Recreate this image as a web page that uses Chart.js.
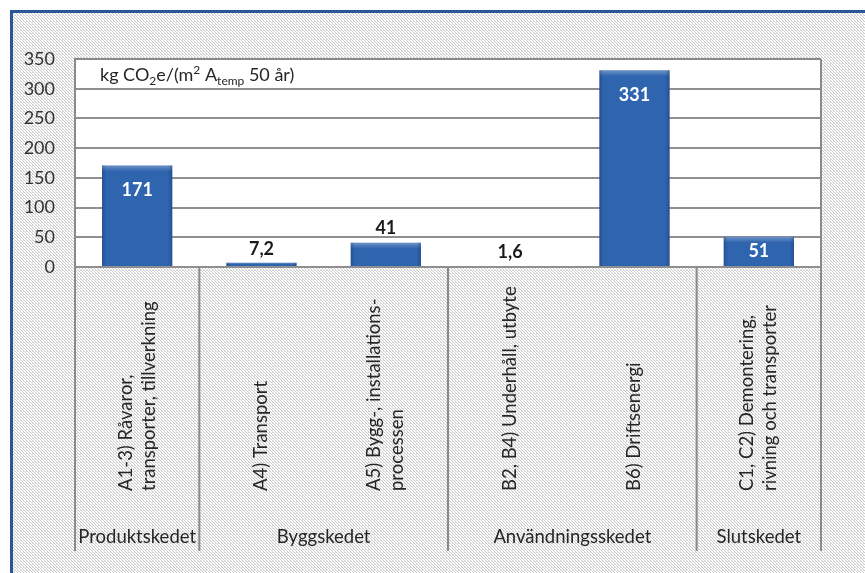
<!DOCTYPE html>
<html><head><meta charset="utf-8">
<script src="https://cdn.jsdelivr.net/npm/chart.js@4.4.1/dist/chart.umd.min.js"></script>
<style>html,body{margin:0;padding:0;background:#fff}#wrap{width:865px;height:573px}</style>
</head><body><div id="wrap"><canvas id="c" width="865" height="573"></canvas></div>
<script>
const categoryLabels = [
  ["A1-3) Råvaror,", "transporter, tillverkning"],
  ["A4) Transport"],
  ["A5) Bygg-, installations-", "processen"],
  ["B2, B4) Underhåll, utbyte"],
  ["B6) Driftsenergi"],
  ["C1, C2) Demontering,", "rivning och transporter"]
];
const values = [171, 7.2, 41, 1.6, 331, 51];
const valueLabels = ["171", "7,2", "41", "1,6", "331", "51"];
const groups = ["Produktskedet", "Byggskedet", "Användningsskedet", "Slutskedet"];
const groupStart = [0, 1, 3, 5];
const groupEnd = [0, 2, 4, 5];
const yTicks = [0, 50, 100, 150, 200, 250, 300, 350];

const FONT = 'Lato, "Open Sans", sans-serif';

function makePattern(ctx){
  const p = document.createElement('canvas'); p.width = 3; p.height = 3;
  const g = p.getContext('2d');
  g.fillStyle = '#ffffff'; g.fillRect(0,0,3,3);
  g.fillStyle = '#cacaca'; g.fillRect(0,0,1,1); g.fillRect(1,1,1,1);g.fillRect(2,2,1,1);
  g.fillStyle = '#e0e0e0'; g.fillRect(2,0,1,1);
  return ctx.createPattern(p, 'repeat');
}

const decor = {
  id: 'decor',
  beforeDraw(chart){
    const {ctx, chartArea:a} = chart;
    ctx.save();
    ctx.fillStyle = '#ffffff'; ctx.fillRect(0,0,chart.width,chart.height);
    ctx.fillStyle = makePattern(ctx); ctx.fillRect(12,12,chart.width-12,chart.height-12);
    ctx.fillStyle = '#2c5597'; ctx.fillRect(10,10,chart.width-10,3); ctx.fillRect(10,10,3,chart.height-10);
    ctx.fillStyle = '#ffffff'; ctx.fillRect(a.left,a.top,a.right-a.left,a.bottom-a.top);
    ctx.restore();
  },
  afterDatasetsDraw(chart){
    const {ctx, chartArea:a} = chart;
    const meta = chart.getDatasetMeta(0);
    ctx.save();
    meta.data.forEach((bar,i)=>{
      const h = bar.base - bar.y; const w = bar.width; const l = bar.x - w/2;
      const bev = Math.min(6, h/2);
      const gr = ctx.createLinearGradient(0, bar.y, 0, bar.y + bev);
      gr.addColorStop(0, 'rgba(255,255,255,0.30)');
      gr.addColorStop(1, 'rgba(255,255,255,0)');
      ctx.fillStyle = gr;
      ctx.fillRect(l, bar.y, w, bev);
      const gh = ctx.createLinearGradient(l, 0, l + w, 0);
      gh.addColorStop(0, 'rgba(0,20,60,0.25)');
      gh.addColorStop(0.06, 'rgba(0,20,60,0)');
      gh.addColorStop(0.94, 'rgba(0,20,60,0)');
      gh.addColorStop(1, 'rgba(0,20,60,0.25)');
      ctx.fillStyle = gh;
      ctx.fillRect(l, bar.y, w, h);
      // value label
      ctx.font = 'bold 18px ' + FONT;
      ctx.textAlign = 'center'; ctx.textBaseline = 'middle';
      if (values[i] > 45){
        ctx.fillStyle = '#ffffff';
        ctx.fillText(valueLabels[i], bar.x, bar.y + Math.min(25, h/2));
      } else {
        ctx.fillStyle = '#1a1a1a';
        ctx.fillText(valueLabels[i], bar.x, bar.y - 14);
      }
    });
    ctx.restore();
  },
  afterDraw(chart){
    const {ctx, chartArea:a, scales:{x}} = chart;
    const bottom = a.bottom + 284;
    ctx.save();
    ctx.strokeStyle = '#8a8a8a'; ctx.lineWidth = 2;
    ctx.beginPath();
    ctx.moveTo(a.left, a.top); ctx.lineTo(a.right, a.top);
    ctx.moveTo(a.left, a.top); ctx.lineTo(a.left, bottom);
    ctx.moveTo(a.right, a.top); ctx.lineTo(a.right, bottom);
    for (let g=0; g<groups.length-1; g++){
      const b = (x.getPixelForValue(groupEnd[g]) + x.getPixelForValue(groupEnd[g]+1))/2;
      ctx.moveTo(b, a.bottom); ctx.lineTo(b, bottom);
    }
    ctx.stroke();
    // category labels (rotated)
    ctx.fillStyle = '#262626';
    ctx.font = '18.5px ' + FONT;
    ctx.textAlign = 'left'; ctx.textBaseline = 'middle';
    categoryLabels.forEach((lines,i)=>{
      const cx = x.getPixelForValue(i);
      const lh = 23;
      lines.forEach((t,j)=>{
        const off = (j - (lines.length-1)/2) * lh;
        ctx.save();
        ctx.translate(cx + off, a.bottom + 224);
        ctx.rotate(-Math.PI/2);
        ctx.fillText(t, 0, 0);
        ctx.restore();
      });
    });
    // group labels
    ctx.textAlign = 'center';
    groups.forEach((gname,g)=>{
      const l = groupStart[g]===0 ? a.left : (x.getPixelForValue(groupStart[g]) + x.getPixelForValue(groupStart[g]-1))/2;
      const r = groupEnd[g]===values.length-1 ? a.right : (x.getPixelForValue(groupEnd[g]) + x.getPixelForValue(groupEnd[g]+1))/2;
      ctx.fillText(gname, (l+r)/2, a.bottom + 270);
    });
    // unit title
    ctx.textAlign = 'left'; ctx.textBaseline = 'alphabetic';
    let px = a.left + 25; const py = a.top + 22;
    const parts = [["kg CO",0],["2",1],["e/(m",0],["2",-1],[" A",0],["temp",1],[" 50 år)",0]];
    parts.forEach(([t,mode])=>{
      ctx.font = (mode===0 ? '18px ' : '12px ') + FONT;
      const dy = mode===1 ? 4 : (mode===-1 ? -7 : 0);
      ctx.fillText(t, px, py + dy);
      px += ctx.measureText(t).width;
    });
    ctx.restore();
  }
};

new Chart(document.getElementById('c'), {
  type: 'bar',
  data: {
    labels: categoryLabels,
    datasets: [{ data: values, backgroundColor: '#2f64ae', borderWidth: 0,
      categoryPercentage: 1, barPercentage: 0.565 }]
  },
  options: {
    responsive: false, animation: false,
    layout: { padding: { left: 0, top: 59, right: 44, bottom: 306 } },
    plugins: { legend: { display: false }, tooltip: { enabled: false } },
    scales: {
      x: { display: false },
      y: {
        min: 0, max: 350,
        afterFit(s){ s.width = 75; },
        afterBuildTicks(s){ s.ticks = yTicks.map(v=>({value:v})); },
        grid: { color: '#8f8f8f', lineWidth: 2, drawTicks: false },
        border: { color: '#8a8a8a', width: 2 },
        ticks: { padding: 20, color: '#333333', font: { family: FONT, size: 18 } }
      }
    }
  },
  plugins: [decor]
});
</script></body></html>
